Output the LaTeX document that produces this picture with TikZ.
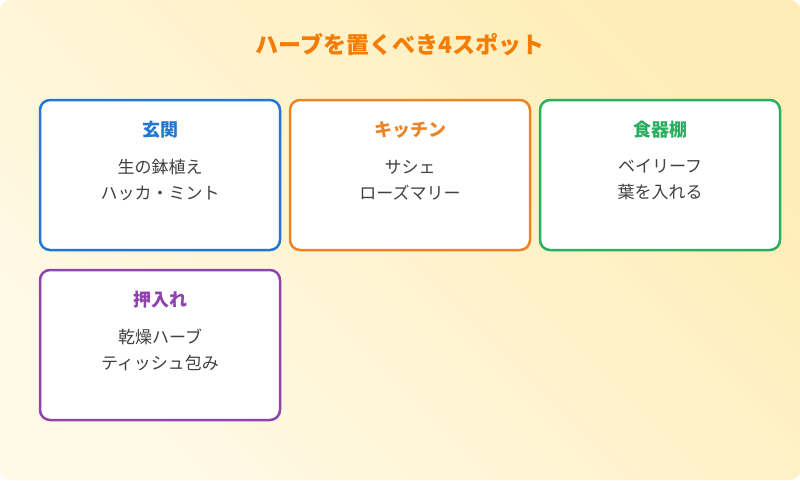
\documentclass[tikz,border=0pt]{standalone}
\usepackage{fontspec}
\setmainfont{Noto Sans CJK JP}
\begin{document}
\begin{tikzpicture}[x=1pt,y=-1pt,
 card/.style={draw=#1,line width=2.5pt,fill=white,rounded corners=10pt},
 head/.style={text=#1,font=\bfseries\fontsize{18}{22}\selectfont},
 body/.style={text=black!75,font=\fontsize{17}{26}\selectfont,align=center}]
\definecolor{cb}{HTML}{2277D2}\definecolor{co}{HTML}{EB8424}
\definecolor{cg}{HTML}{2AAE5F}\definecolor{cp}{HTML}{8E44AD}
\definecolor{bg1}{HTML}{FFF9E6}\definecolor{bg2}{HTML}{FFEDB8}
\useasboundingbox (0,0) rectangle (800,480);
\shade[left color=bg1,right color=bg2,shading angle=135,rounded corners=10pt] (0,0) rectangle (800,480);
\node[text={rgb,255:red,245;green,124;blue,0},font=\bfseries\fontsize{23}{28}\selectfont] (t) at (400,45) {ハーブを置くべき4スポット};
\draw[card=cb] (40,100) rectangle (280,250);
\draw[card=co] (290,100) rectangle (530,250);
\draw[card=cg] (540,100) rectangle (780,250);
\draw[card=cp] (40,270) rectangle (280,420);
\node[head=cb] (h1) at (160,130) {玄関};
\node[head=co] (h2) at (410,130) {キッチン};
\node[head=cg] (h3) at (660,130) {食器棚};
\node[head=cp] (h4) at (160,300) {押入れ};
\node[body] (b1) at (160,180) {生の鉢植え\\ハッカ・ミント};
\node[body] (b2) at (410,180) {サシェ\\ローズマリー};
\node[body] (b3) at (660,180) {ベイリーフ\\葉を入れる};
\node[body] (b4) at (160,350) {乾燥ハーブ\\ティッシュ包み};
\end{tikzpicture}
\end{document}
